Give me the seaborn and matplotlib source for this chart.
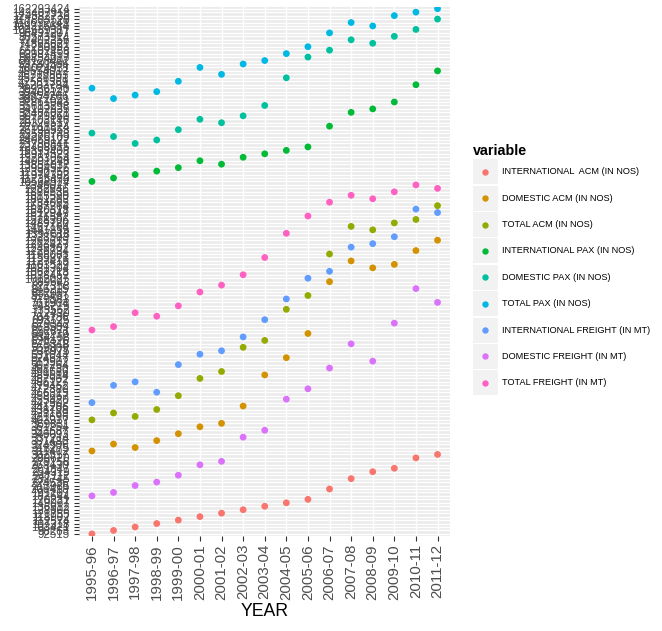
import numpy as np
import pandas as pd
import matplotlib
matplotlib.use("Agg")
import matplotlib.pyplot as plt
import seaborn as sns
from matplotlib.legend_handler import HandlerBase
from matplotlib.lines import Line2D
from matplotlib.patches import Rectangle

# Airport traffic, 1995-96 to 2011-12 (values estimated from the chart)
years = ["1995-96", "1996-97", "1997-98", "1998-99", "1999-00", "2000-01",
         "2001-02", "2002-03", "2003-04", "2004-05", "2005-06", "2006-07",
         "2007-08", "2008-09", "2009-10", "2010-11", "2011-12"]

intl_acm = [92515, 98263, 103421, 107318, 112574, 118902, 121755, 128603, 136912,
            149067, 170231, 206418, 238745, 254319, 261847, 289620, 302517]
dom_acm = [311402, 324906, 318275, 331480, 346093, 361254, 369831, 441206, 489514,
           524617, 645230, 889643, 1127415, 1081304, 1103529, 1226734, 1292615]
total_acm = [403917, 423169, 421696, 438798, 458667, 487902, 491586, 569809, 626426,
             733562, 815461, 1198061, 1467194, 1441859, 1489720, 1528306, 1687264]
intl_pax = [10568924, 11235470, 11974382, 12390756, 12994516, 14001248, 13856037,
            15283064, 16917523, 19393408, 22408615, 27011824, 32467021, 34102935,
            37861043, 41203784, 48654012]
dom_pax = [25580743, 24276109, 23780841, 24069122, 26190558, 28703146, 28326517,
           30779860, 35613298, 45286391, 59854017, 66102458, 77402356, 74893621,
           80573914, 104689317, 117803529]
total_pax = [39936520, 38072551, 38954206, 39408127, 42581369, 50024931, 46719803,
             53780566, 56128402, 62987453, 71250893, 96431207, 110632145, 108315684,
             124582736, 143407918, 162293424]
intl_freight = [447902, 479452, 486127, 466315, 507264, 531044, 538975, 634158, 693125,
                779583, 1012087, 1062718, 1249802, 1263427, 1328503, 1640318, 1612947]
dom_freight = [182644, 191207, 213985, 224536, 247112, 268430, 279156, 337214, 353687,
               455420, 472880, 498730, 575318, 515902, 679342, 846215, 761904]
total_freight = [652871, 668509, 712430, 704786, 748219, 832097, 871358, 1038452, 1159873,
                 1397618, 1571582, 1734095, 1815590, 1801263, 1889536, 2346027, 2282946]

series_names = ["INTERNATIONAL  ACM (IN NOS)", "DOMESTIC ACM (IN NOS)", "TOTAL ACM (IN NOS)",
                "INTERNATIONAL PAX (IN NOS)", "DOMESTIC PAX (IN NOS)", "TOTAL PAX (IN NOS)",
                "INTERNATIONAL FREIGHT (IN MT)", "DOMESTIC FREIGHT (IN MT)", "TOTAL FREIGHT (IN MT)"]
series_values = [intl_acm, dom_acm, total_acm, intl_pax, dom_pax, total_pax,
                 intl_freight, dom_freight, total_freight]
colors = ["#F8766D", "#D39200", "#93AA00", "#00BA38", "#00C19F",
          "#00B9E3", "#619CFF", "#DB72FB", "#FF61C3"]

# long format, value used as a discrete (factor) axis
rows = []
for name, vals in zip(series_names, series_values):
    for yr, v in zip(years, vals):
        rows.append((yr, name, v))
df = pd.DataFrame(rows, columns=["YEAR", "variable", "value"])
df = df.sort_values("value").reset_index(drop=True)
levels = [str(v) for v in df["value"]]
df["label"] = pd.Categorical(df["value"].astype(str), categories=levels, ordered=True)
df["YEAR"] = pd.Categorical(df["YEAR"], categories=years, ordered=True)

plt.rcParams["font.family"] = ["Liberation Sans", "DejaVu Sans"]

fig = plt.figure(figsize=(6.62, 6.31), dpi=100)
ax = fig.add_axes([0.1193, 0.1506, 0.5612, 0.8389])
ax.set_facecolor("#EBEBEB")

sns.scatterplot(data=df, x="YEAR", y="label", hue="variable", hue_order=series_names,
                palette=colors, s=24, linewidth=0, legend=False, ax=ax, zorder=3)

ax.set_xlim(-0.6, len(years) - 0.4)
ax.set_ylim(-0.6, len(levels) - 0.4)
ax.grid(True, color="white", linewidth=1.0)
ax.set_axisbelow(True)
for sp in ax.spines.values():
    sp.set_visible(False)

ax.tick_params(axis="y", labelsize=8.3, colors="#4D4D4D", length=3.3, width=0.8, pad=3.5)
ax.tick_params(axis="x", labelsize=10.8, colors="#4D4D4D", length=3.3, width=0.8, pad=2.5,
               labelrotation=90)
ax.tick_params(axis="both", color="#333333")
ax.set_xlabel("YEAR", fontsize=12.7, color="black", labelpad=2)
ax.set_ylabel("")


class KeyHandler(HandlerBase):
    def create_artists(self, legend, orig_handle, xdescent, ydescent, width, height,
                       fontsize, trans):
        bg = Rectangle((-xdescent, -ydescent), width, height, facecolor="#F2F2F2",
                       edgecolor="none", transform=trans)
        dot = Line2D([-xdescent + width / 2], [-ydescent + height / 2], marker="o",
                     markersize=4.6, markeredgewidth=0, linestyle="none",
                     color=orig_handle.get_color(), transform=trans)
        return [bg, dot]


handles = [Line2D([], [], color=c) for c in colors]
leg = fig.legend(handles, series_names, loc="upper left", bbox_to_anchor=(0.7145, 0.772),
                 frameon=False, fontsize=6.6, title="variable", alignment="left",
                 handler_map={Line2D: KeyHandler()}, handlelength=2.7, handleheight=3.82,
                 labelspacing=0.15, handletextpad=0.45, borderpad=0, borderaxespad=0)
leg.get_title().set_fontsize(10.3)
leg.get_title().set_fontweight("bold")

fig.savefig("out.png", dpi=100)
